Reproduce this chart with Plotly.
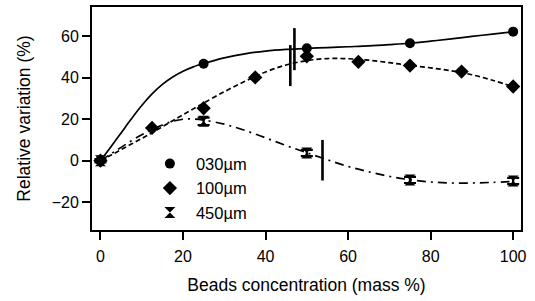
import plotly.graph_objects as go

# measured points
conc_030 = [0, 25, 50, 75, 100]
var_030 = [0, 46.8, 54.3, 56.7, 62.3]
conc_100 = [0, 12.5, 25, 37.5, 50, 62.5, 75, 87.5, 100]
var_100 = [0, 15.8, 25.3, 40.2, 50.4, 47.7, 45.9, 43.0, 35.8]
conc_450 = [0, 25, 50, 75, 100]
var_450 = [0, 19.0, 3.7, -9.3, -9.8]
err_450 = [0.8, 1.8, 1.5, 1.5, 1.5]

# fitted curves
fit_x = [0, 2.5, 5, 7.5, 10, 12.5, 15, 17.5, 20, 22.5, 25, 30, 35, 40, 45, 50, 55,
         60, 65, 70, 75, 80, 85, 90, 95, 100]
fit_030 = [0, 6.6, 13.4, 20.2, 26.6, 32.2, 36.8, 40.4, 43.2, 45.3, 46.9, 49.6, 51.6,
           52.9, 53.7, 54.2, 54.6, 55.0, 55.4, 56.0, 56.7, 57.7, 58.8, 60.0, 61.1, 62.3]
fit_100 = [0, 2.6, 5.3, 8, 10.7, 13.5, 16.4, 19.3, 22.2, 25, 27.8, 33.3, 38.3, 42.8,
           46.2, 48.3, 49.3, 49.2, 48.5, 47.3, 46.0, 44.8, 43.4, 41.5, 38.8, 35.7]
fit_450 = [0, 3.2, 6.4, 9.6, 12.5, 15, 17.2, 19, 20, 20.1, 19.6, 17.6, 14.6, 11.0,
           7.3, 3.8, 0.4, -2.8, -5.4, -7.6, -9.2, -10.3, -10.8, -10.8, -10.5, -10.1]

# characteristic concentration markers
mark_x = [46.0, 47.0, 53.8]
mark_lo = [36.0, 43.7, -9.6]
mark_hi = [55.8, 64.0, 10.0]

labels = ["030µm", "100µm", "450µm"]

fig = go.Figure()

fig.add_trace(go.Scatter(x=fit_x, y=fit_030, mode="lines", showlegend=False,
                         line=dict(color="black", width=1.7, shape="spline")))
fig.add_trace(go.Scatter(x=fit_x, y=fit_100, mode="lines", showlegend=False,
                         line=dict(color="black", width=1.7, dash="5px,3px", shape="spline")))
fig.add_trace(go.Scatter(x=fit_x, y=fit_450, mode="lines", showlegend=False,
                         line=dict(color="black", width=1.7, dash="9px,5px,2px,5px", shape="spline")))

for mx, lo, hi in zip(mark_x, mark_lo, mark_hi):
    fig.add_trace(go.Scatter(x=[mx, mx], y=[lo, hi], mode="lines", showlegend=False,
                             line=dict(color="black", width=2.6)))

fig.add_trace(go.Scatter(x=conc_030, y=var_030, mode="markers", name=labels[0],
                         marker=dict(symbol="circle", size=10, color="black")))
fig.add_trace(go.Scatter(x=conc_100, y=var_100, mode="markers", name=labels[1],
                         marker=dict(symbol="diamond", size=11, color="black")))
fig.add_trace(go.Scatter(x=conc_450, y=var_450, mode="markers", name=labels[2],
                         marker=dict(symbol="hourglass", size=11, color="black"),
                         error_y=dict(type="data", array=err_450, color="black",
                                      thickness=2.2, width=6)))

axis_common = dict(showline=True, linecolor="black", linewidth=2, mirror=True,
                   ticks="outside", ticklen=8, tickwidth=2, tickcolor="black",
                   showgrid=False, zeroline=False,
                   tickfont=dict(family="Liberation Sans", size=16, color="black"),
                   title_font=dict(family="Liberation Sans", size=17.5, color="black"))

fig.update_xaxes(range=[-2.05, 101.9], tickvals=[0, 20, 40, 60, 80, 100],
                 ticklabelstandoff=3,
                 title_text="Beads concentration (mass %)", title_standoff=15, **axis_common)
fig.update_yaxes(range=[-33.5, 74.2], tickvals=[-20, 0, 20, 40, 60],
                 title_text="Relative variation (%)", title_standoff=17, **axis_common)

fig.update_layout(
    width=535, height=301,
    margin=dict(l=92, r=14, t=7, b=71, autoexpand=False),
    paper_bgcolor="white", plot_bgcolor="white",
    font=dict(family="Liberation Sans", size=16, color="black"),
    legend=dict(x=0.121, y=0.375, xanchor="left", yanchor="top", itemwidth=42,
                bgcolor="rgba(0,0,0,0)", font=dict(size=16.5), tracegroupgap=0),
)

fig.write_html("out.html", config={"displayModeBar": False},
               post_script="document.body.style.margin='0';")
